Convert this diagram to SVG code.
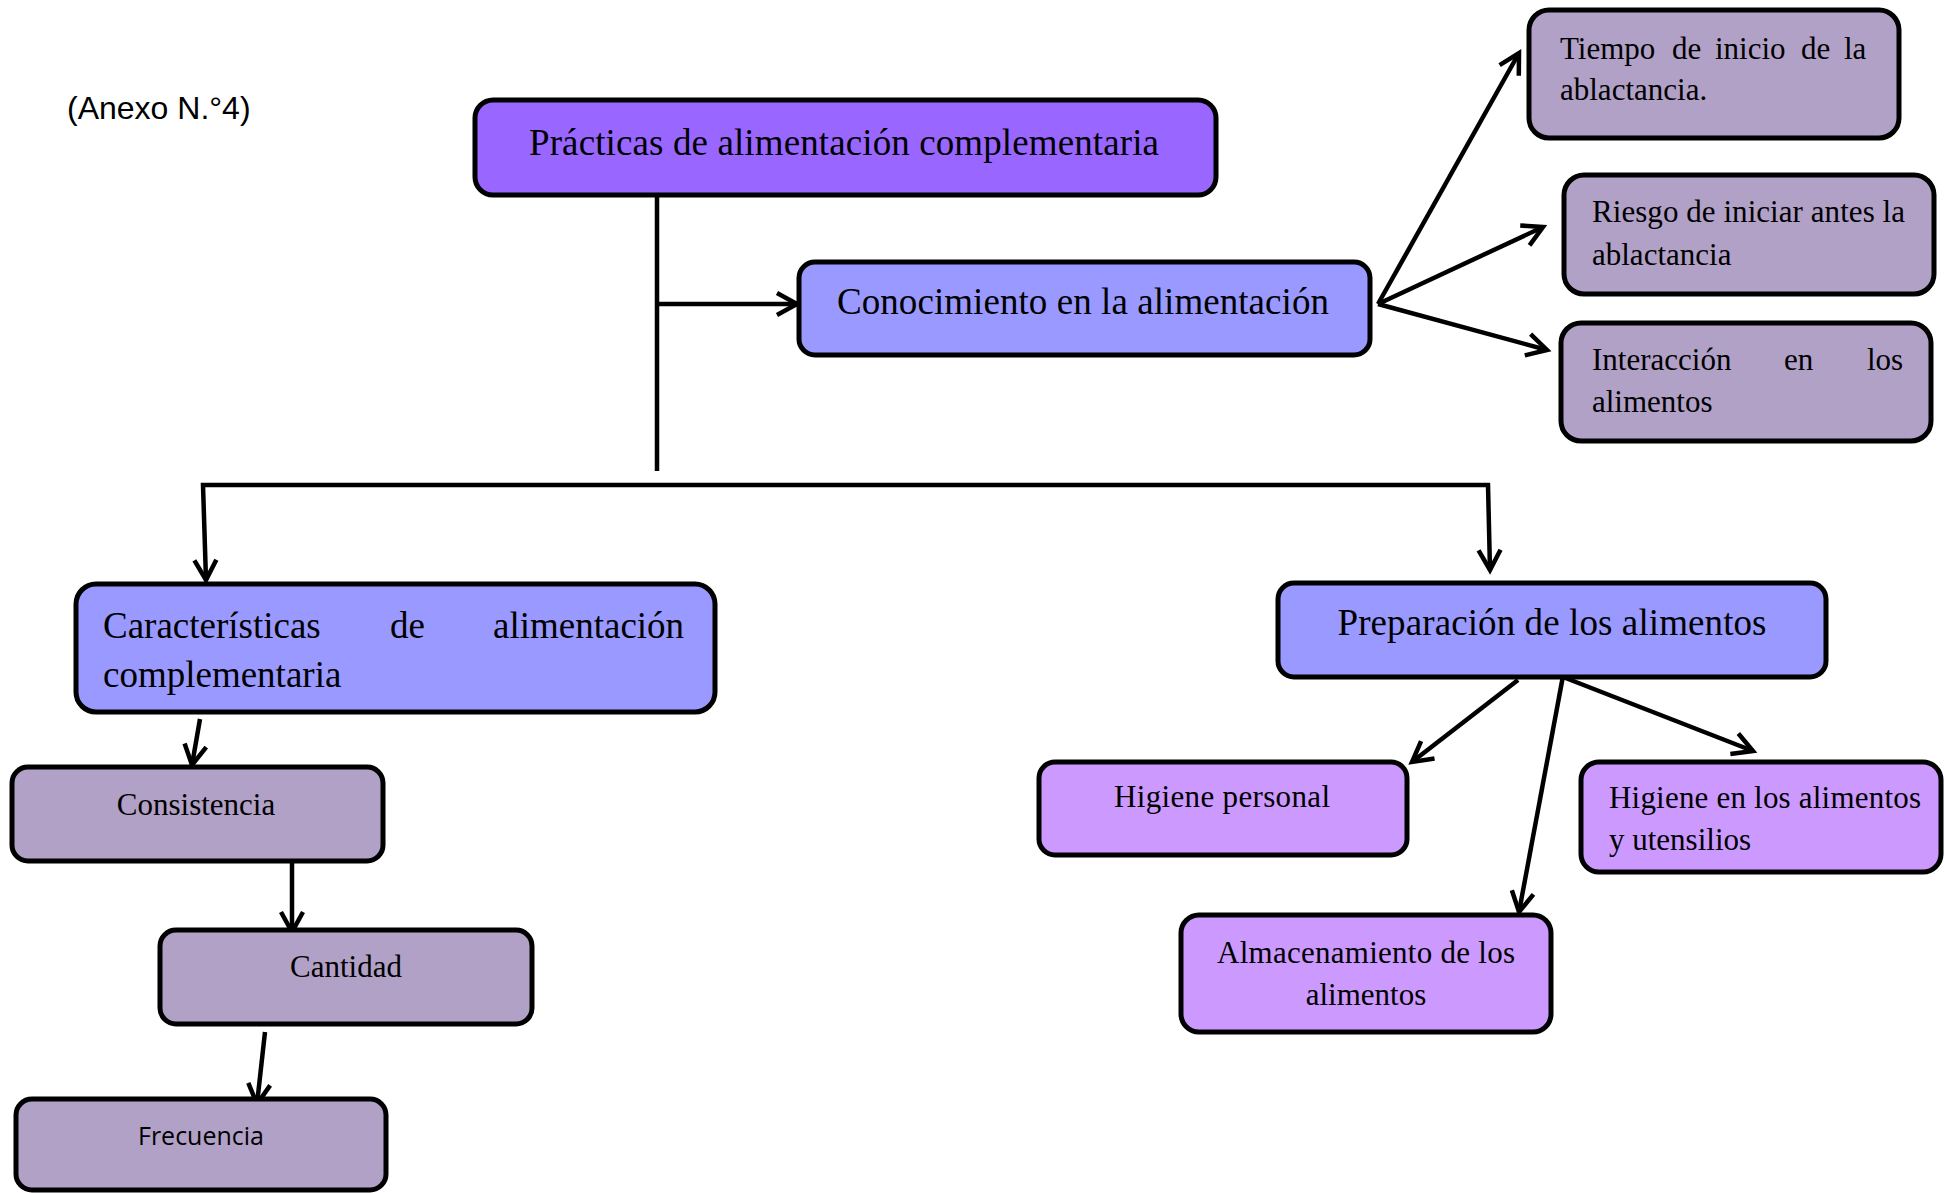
<svg xmlns="http://www.w3.org/2000/svg" width="1944" height="1193" viewBox="0 0 1944 1193">
  <defs>
    <marker id="arrow" markerUnits="userSpaceOnUse" viewBox="0 0 26 26" markerWidth="26" markerHeight="26" refX="22" refY="13" orient="auto" overflow="visible">
      <path d="M2,2 L22,13 L2,24" fill="none" stroke="#000" stroke-width="4.5" stroke-linejoin="miter"/>
    </marker>
  </defs>
  <style>
    .box{stroke:#000;stroke-width:5}
    .root{fill:#9966FF}
    .main{fill:#9999FF}
    .sub{fill:#B2A1C7}
    .lilac{fill:#CC99FF}
    .t{font-family:"Liberation Serif","Times New Roman",serif;fill:#000}
    .t37{font-size:37px}
    .t31{font-size:31px}
    .mid{text-anchor:middle}
    .link{fill:none;stroke:#000;stroke-width:4.5}
    .arr{marker-end:url(#arrow)}
  </style>
  <rect width="1944" height="1193" fill="#fff"/>

  <text x="67" y="119" font-family="'Liberation Sans',Arial,sans-serif" font-size="32">(Anexo N.°4)</text>

  <!-- connectors -->
  <g id="connectors">
    <path class="link" d="M657,195 L657,471"/>
    <path class="link arr" d="M657,304 L797,304"/>
    <path class="link arr" d="M850,485 L203,485 L206,580"/>
    <path class="link arr" d="M850,485 L1488,485 L1490,570"/>
    <path class="link arr" d="M1378,304 L1519,53"/>
    <path class="link arr" d="M1378,304 L1543,227"/>
    <path class="link arr" d="M1378,304 L1547,350"/>
    <path class="link arr" d="M200,719 L192,765"/>
    <path class="link arr" d="M292,862 L292,932"/>
    <path class="link arr" d="M265,1032 L257,1104"/>
    <path class="link arr" d="M1518,680 L1412,762"/>
    <path class="link arr" d="M1563,676 L1519,912"/>
    <path class="link arr" d="M1563,677 L1753,751"/>
  </g>

  <!-- nodes -->
  <g id="practicas">
    <rect class="box root" x="475" y="100" width="741" height="95" rx="18"/>
    <text class="t t37 mid" x="844" y="155" textLength="630">Prácticas de alimentación complementaria</text>
  </g>

  <g id="conocimiento">
    <rect class="box main" x="799" y="262" width="571" height="93" rx="16"/>
    <text class="t t37" x="837" y="314" textLength="492">Conocimiento en la alimentación</text>
  </g>

  <g id="tiempo">
    <rect class="box sub" x="1529" y="10" width="370" height="128" rx="20"/>
    <text class="t t31" y="59"><tspan x="1560">Tiempo</tspan><tspan x="1672">de</tspan><tspan x="1715">inicio</tspan><tspan x="1801">de</tspan><tspan x="1844">la</tspan></text>
    <text class="t t31" x="1560" y="100">ablactancia.</text>
  </g>

  <g id="riesgo">
    <rect class="box sub" x="1564" y="175" width="370" height="119" rx="20"/>
    <text class="t t31" x="1592" y="222" textLength="313">Riesgo de iniciar antes la</text>
    <text class="t t31" x="1592" y="265">ablactancia</text>
  </g>

  <g id="interaccion">
    <rect class="box sub" x="1561" y="323" width="370" height="118" rx="20"/>
    <text class="t t31" y="370"><tspan x="1592">Interacción</tspan><tspan x="1784">en</tspan><tspan x="1867">los</tspan></text>
    <text class="t t31" x="1592" y="412">alimentos</text>
  </g>

  <g id="caracteristicas">
    <rect class="box main" x="76" y="584" width="639" height="128" rx="20"/>
    <text class="t t37" y="638"><tspan x="103">Características</tspan><tspan x="390">de</tspan><tspan x="493">alimentación</tspan></text>
    <text class="t t37" x="103" y="687">complementaria</text>
  </g>

  <g id="consistencia">
    <rect class="box sub" x="12" y="767" width="371" height="94" rx="16"/>
    <text class="t t31 mid" x="196" y="815">Consistencia</text>
  </g>

  <g id="cantidad">
    <rect class="box sub" x="160" y="930" width="372" height="94" rx="16"/>
    <text class="t t31 mid" x="346" y="977">Cantidad</text>
  </g>

  <g id="frecuencia">
    <rect class="box sub" x="16" y="1099" width="370" height="91" rx="16"/>
    <text x="138" y="1145" font-family="'Open Sans','Noto Sans',sans-serif" font-size="26" textLength="126" lengthAdjust="spacingAndGlyphs">Frecuencia</text>
  </g>

  <g id="preparacion">
    <rect class="box main" x="1278" y="583" width="548" height="94" rx="16"/>
    <text class="t t37 mid" x="1552" y="635" textLength="429">Preparación de los alimentos</text>
  </g>

  <g id="higiene-personal">
    <rect class="box lilac" x="1039" y="762" width="368" height="93" rx="16"/>
    <text class="t t31 mid" x="1222" y="807" textLength="216">Higiene personal</text>
  </g>

  <g id="higiene-alimentos">
    <rect class="box lilac" x="1581" y="762" width="360" height="110" rx="18"/>
    <text class="t t31" x="1609" y="808" textLength="312">Higiene en los alimentos</text>
    <text class="t t31" x="1609" y="850">y utensilios</text>
  </g>

  <g id="almacenamiento">
    <rect class="box lilac" x="1181" y="915" width="370" height="117" rx="18"/>
    <text class="t t31 mid" x="1366" y="963" textLength="298">Almacenamiento de los</text>
    <text class="t t31 mid" x="1366" y="1005">alimentos</text>
  </g>
</svg>
